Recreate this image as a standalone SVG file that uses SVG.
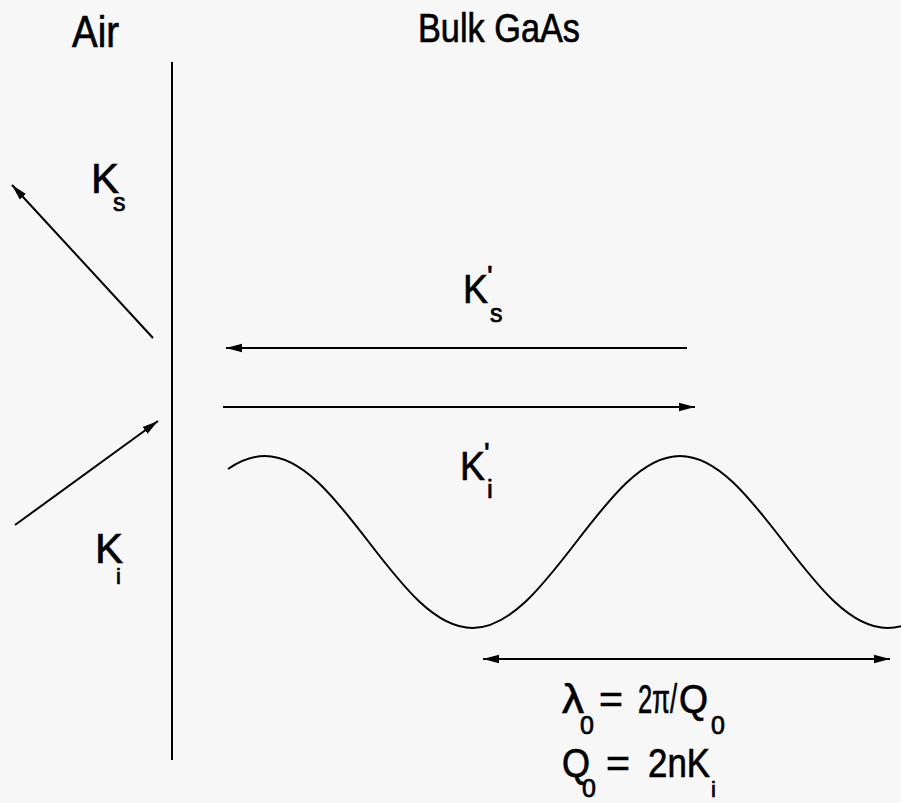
<svg xmlns="http://www.w3.org/2000/svg" width="901" height="803" viewBox="0 0 901 803">
  <style>
    .t { font-family: "Liberation Sans", Arial, sans-serif; fill: #000; stroke: #000; stroke-width: 0.7; }
    .ln { stroke: #000; stroke-width: 2; fill: none; }
  </style>
  <defs>
    <marker id="ah" markerUnits="userSpaceOnUse" markerWidth="18" markerHeight="10" refX="16" refY="5" orient="auto-start-reverse">
      <path d="M0,0.8 L16,5 L0,9.2 Z" fill="#000"/>
    </marker>
  </defs>
  <rect x="0" y="0" width="901" height="803" fill="#f7f7f7"/>

  <g id="header-air">
    <text class="t" x="72" y="47" font-size="45" textLength="47" lengthAdjust="spacingAndGlyphs">Air</text>
  </g>
  <g id="header-gaas">
    <text class="t" x="418" y="42" font-size="41" textLength="162" lengthAdjust="spacingAndGlyphs">Bulk GaAs</text>
  </g>

  <g id="interface">
    <line class="ln" x1="172" y1="62" x2="172" y2="760"/>
  </g>

  <g id="wave">
    <path class="ln" d="M228,469 C240.3,460.5 252.7,456 265,456 C302.38,456 334.91,497.94 368.75,542 C402.59,586.06 435.12,628 472.5,628 C509.88,628 542.41,586.06 576.25,542 C610.09,497.94 642.62,456 680,456 C717.38,456 749.91,497.94 783.75,542 C817.59,586.06 850.12,628 887.5,628 C895,628 901,626.5 905,625"/>
  </g>

  <g id="label-Ks">
    <text class="t" x="91" y="193" font-size="42">K<tspan x="113" y="211" font-size="25">s</tspan></text>
  </g>
  <g id="label-Ki">
    <text class="t" x="95" y="563" font-size="42">K<tspan x="116" y="584" font-size="22">i</tspan></text>
  </g>
  <g id="label-Ks-prime">
    <text class="t" x="463" y="303" font-size="40" textLength="25" lengthAdjust="spacingAndGlyphs">K</text>
    <text class="t" x="487" y="286" font-size="30">'</text>
    <text class="t" x="490" y="322" font-size="25">s</text>
  </g>
  <g id="label-Ki-prime">
    <text class="t" x="460" y="480" font-size="40" textLength="25" lengthAdjust="spacingAndGlyphs">K</text>
    <text class="t" x="484" y="463" font-size="30">'</text>
    <text class="t" x="487" y="498" font-size="26">i</text>
  </g>

  <g id="eq-lambda">
    <text class="t" x="562" y="713" font-size="41" textLength="22" lengthAdjust="spacingAndGlyphs">λ</text>
    <text class="t" x="580" y="734" font-size="25">0</text>
    <text class="t" x="599" y="713" font-size="41">=</text>
    <text class="t" x="638" y="713" font-size="41" textLength="39" lengthAdjust="spacingAndGlyphs">2π/</text>
    <text class="t" x="679" y="713" font-size="41" textLength="29" lengthAdjust="spacingAndGlyphs">Q</text>
    <text class="t" x="711" y="734" font-size="25">0</text>
  </g>
  <g id="eq-Q">
    <text class="t" x="562" y="777" font-size="41" textLength="28" lengthAdjust="spacingAndGlyphs">Q</text>
    <text class="t" x="582" y="797" font-size="25">0</text>
    <text class="t" x="606" y="777" font-size="41">=</text>
    <text class="t" x="648" y="777" font-size="41" textLength="62" lengthAdjust="spacingAndGlyphs">2nK</text>
    <text class="t" x="711" y="797" font-size="22">i</text>
  </g>

  <g id="connectors">
    <line class="ln" x1="153" y1="338" x2="12" y2="185" marker-end="url(#ah)"/>
    <line class="ln" x1="15" y1="525" x2="158" y2="421" marker-end="url(#ah)"/>
    <line class="ln" x1="687" y1="348" x2="226" y2="348" marker-end="url(#ah)"/>
    <line class="ln" x1="223" y1="407" x2="695" y2="407" marker-end="url(#ah)"/>
    <line class="ln" x1="483" y1="659" x2="890" y2="659" marker-start="url(#ah)" marker-end="url(#ah)"/>
  </g>
</svg>
